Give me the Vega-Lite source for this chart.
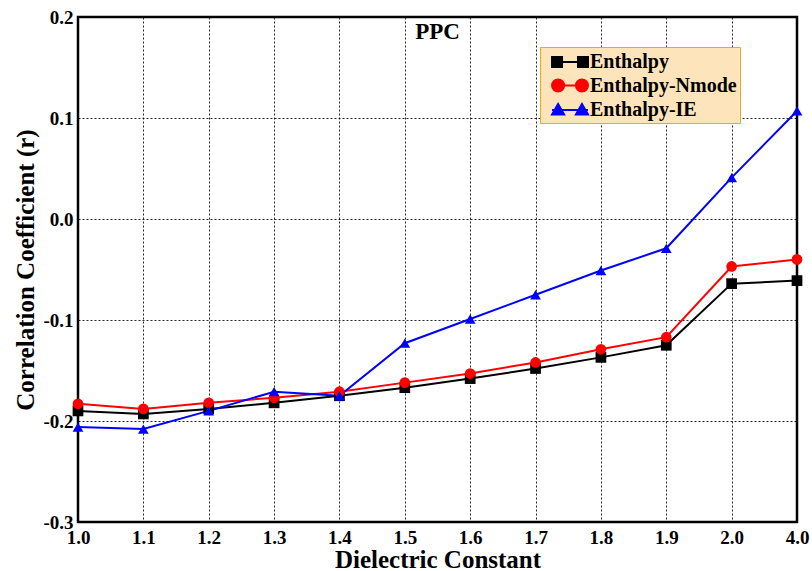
{
  "$schema": "https://vega.github.io/schema/vega-lite/v6.json",
  "width": 719,
  "height": 505,
  "autosize": "none",
  "padding": {"left": 78, "top": 17, "right": 15, "bottom": 49},
  "background": "white",
  "config": {
    "font": "Liberation Serif",
    "view": {"stroke": "black", "strokeWidth": 2.5},
    "axis": {
      "labelFont": "Liberation Serif", "labelFontWeight": "bold", "labelFontSize": 19, "labelColor": "black",
      "titleFont": "Liberation Serif", "titleFontWeight": "bold", "titleFontSize": 25, "titleColor": "black",
      "grid": true, "gridColor": "black", "gridDash": [2, 2], "gridWidth": 1, "gridOpacity": 0.85,
      "domain": false, "ticks": false
    }
  },
  "title": {"text": "PPC", "anchor": "middle", "offset": -36, "fontSize": 23, "fontWeight": "bold", "font": "Liberation Serif", "color": "black"},
  "data": {"values": [
    {"x": "1.0", "series": "Enthalpy", "r": -0.190},
    {"x": "1.1", "series": "Enthalpy", "r": -0.193},
    {"x": "1.2", "series": "Enthalpy", "r": -0.188},
    {"x": "1.3", "series": "Enthalpy", "r": -0.182},
    {"x": "1.4", "series": "Enthalpy", "r": -0.175},
    {"x": "1.5", "series": "Enthalpy", "r": -0.167},
    {"x": "1.6", "series": "Enthalpy", "r": -0.158},
    {"x": "1.7", "series": "Enthalpy", "r": -0.148},
    {"x": "1.8", "series": "Enthalpy", "r": -0.137},
    {"x": "1.9", "series": "Enthalpy", "r": -0.125},
    {"x": "2.0", "series": "Enthalpy", "r": -0.064},
    {"x": "4.0", "series": "Enthalpy", "r": -0.061},
    {"x": "1.0", "series": "Enthalpy-Nmode", "r": -0.183},
    {"x": "1.1", "series": "Enthalpy-Nmode", "r": -0.188},
    {"x": "1.2", "series": "Enthalpy-Nmode", "r": -0.182},
    {"x": "1.3", "series": "Enthalpy-Nmode", "r": -0.177},
    {"x": "1.4", "series": "Enthalpy-Nmode", "r": -0.171},
    {"x": "1.5", "series": "Enthalpy-Nmode", "r": -0.162},
    {"x": "1.6", "series": "Enthalpy-Nmode", "r": -0.153},
    {"x": "1.7", "series": "Enthalpy-Nmode", "r": -0.142},
    {"x": "1.8", "series": "Enthalpy-Nmode", "r": -0.129},
    {"x": "1.9", "series": "Enthalpy-Nmode", "r": -0.117},
    {"x": "2.0", "series": "Enthalpy-Nmode", "r": -0.047},
    {"x": "4.0", "series": "Enthalpy-Nmode", "r": -0.040},
    {"x": "1.0", "series": "Enthalpy-IE", "r": -0.206},
    {"x": "1.1", "series": "Enthalpy-IE", "r": -0.208},
    {"x": "1.2", "series": "Enthalpy-IE", "r": -0.190},
    {"x": "1.3", "series": "Enthalpy-IE", "r": -0.171},
    {"x": "1.4", "series": "Enthalpy-IE", "r": -0.175},
    {"x": "1.5", "series": "Enthalpy-IE", "r": -0.123},
    {"x": "1.6", "series": "Enthalpy-IE", "r": -0.099},
    {"x": "1.7", "series": "Enthalpy-IE", "r": -0.075},
    {"x": "1.8", "series": "Enthalpy-IE", "r": -0.051},
    {"x": "1.9", "series": "Enthalpy-IE", "r": -0.029},
    {"x": "2.0", "series": "Enthalpy-IE", "r": 0.041},
    {"x": "4.0", "series": "Enthalpy-IE", "r": 0.107}
  ]},
  "encoding": {
    "x": {
      "field": "x", "type": "ordinal",
      "scale": {"type": "point", "padding": 0, "domain": ["1.0","1.1","1.2","1.3","1.4","1.5","1.6","1.7","1.8","1.9","2.0","4.0"]},
      "axis": {"title": "Dielectric Constant", "labelAngle": 0, "labelPadding": 6, "titlePadding": 0}
    },
    "y": {
      "field": "r", "type": "quantitative",
      "scale": {"domain": [-0.3, 0.2], "nice": false, "zero": false},
      "axis": {"title": "Correlation Coefficient (r)", "values": [-0.3, -0.2, -0.1, 0, 0.1, 0.2], "format": ".1f", "labelExpr": "replace(datum.label, '−', '-')", "labelPadding": 5, "titlePadding": 4}
    },
    "color": {
      "field": "series", "type": "nominal",
      "scale": {"domain": ["Enthalpy", "Enthalpy-Nmode", "Enthalpy-IE"], "range": ["#000000", "#ff0000", "#0000ff"]},
      "legend": null
    }
  },
  "layer": [
    {
      "mark": {"type": "line", "strokeWidth": 2},
      "encoding": {}
    },
    {
      "mark": {"type": "point", "filled": true, "opacity": 1, "size": 115},
      "encoding": {
        "shape": {
          "field": "series", "type": "nominal",
          "scale": {"domain": ["Enthalpy", "Enthalpy-Nmode", "Enthalpy-IE"], "range": ["square", "circle", "triangle-up"]},
          "legend": null
        }
      }
    },
    {
      "mark": {"type": "point", "filled": true, "opacity": 0, "size": 10},
      "encoding": {
        "shape": {
          "field": "series", "type": "nominal",
          "scale": {"domain": ["Enthalpy", "Enthalpy-Nmode", "Enthalpy-IE"], "range": [
            "M-0.27,0H3M-0.27,-0.45H0.64V0.45H-0.27ZM2.09,-0.45H3V0.45H2.09Z",
            "M-0.27,0H3M-0.27,0A0.55,0.55 0 1,0 0.83,0A0.55,0.55 0 1,0 -0.27,0ZM1.9,0A0.55,0.55 0 1,0 3,0A0.55,0.55 0 1,0 1.9,0Z",
            "M-0.27,0H3M-0.27,0.4L0.28,-0.55L0.83,0.4ZM1.9,0.4L2.45,-0.55L3,0.4Z"
          ]},
          "legend": {
            "title": null, "orient": "none", "legendX": 462, "legendY": 30,
            "symbolSize": 484, "symbolStrokeWidth": 2, "symbolOpacity": 1,
            "symbolFillColor": {"expr": "datum.value === 'Enthalpy-Nmode' ? '#ff0000' : (datum.value === 'Enthalpy-IE' ? '#0000ff' : '#000000')"},
            "symbolStrokeColor": {"expr": "datum.value === 'Enthalpy-Nmode' ? '#ff0000' : (datum.value === 'Enthalpy-IE' ? '#0000ff' : '#000000')"},
            "labelFont": "Liberation Serif", "labelFontWeight": "bold", "labelFontSize": 20, "labelColor": "black",
            "labelOffset": 23, "rowPadding": 1.5,
            "fillColor": "#fde4bb", "strokeColor": "#f9a41e", "padding": 3,
            "encode": {
              "legend": {"strokeWidth": {"value": 2}}
            }
          }
        }
      }
    }
  ],
  "resolve": {"scale": {"shape": "independent"}}
}
